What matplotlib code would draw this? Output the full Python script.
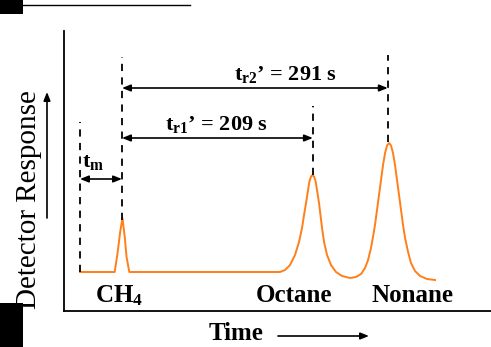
import matplotlib
matplotlib.use('Agg')
import matplotlib.pyplot as plt
from matplotlib.patches import Rectangle, FancyArrowPatch
from matplotlib.lines import Line2D

plt.rcParams['font.family'] = ['Liberation Serif', 'DejaVu Serif']
plt.rcParams['mathtext.fontset'] = 'custom'
plt.rcParams['mathtext.rm'] = 'Liberation Serif:bold'
plt.rcParams['mathtext.it'] = 'Liberation Serif:bold'
plt.rcParams['mathtext.bf'] = 'Liberation Serif:bold'

# chromatogram trace (time in s, response in arbitrary units)
trace_t = [0, 38, 41, 44, 46.5, 49, 51, 54,
           219, 224.5, 230, 235.4, 239.8, 243.1, 245.3, 247.5, 249.7, 251.3, 253,
           254.6, 256.2, 257.9, 259.5, 261.7, 263.3, 265, 267.2, 270.5, 274.8, 280.3,
           286.9, 295.7, 302.2, 307.7, 312.1, 315.4, 318.6, 320.8, 323, 325.2, 327.4,
           329.6, 331.8, 334, 336.2, 338.4, 340.5, 342.7, 344.9, 347.1, 349.3, 351.5,
           353.7, 355.9, 359.2, 362.4, 366.8, 372.3, 380, 388.7]
trace_r = [0, 0, 18, 40, 54, 35, 15, 0,
           0, 2, 7, 17, 30, 44, 57, 69, 82, 91, 95.5,
           97, 95.5, 91, 82, 69, 57, 44, 30, 17, 7, 0,
           -4, -6, -5, -2, 4, 12, 24, 35, 47, 62, 77,
           92, 107, 119, 126.5, 129, 126.5, 119, 107, 92, 77, 62,
           47, 34, 20, 9, 1, -4, -7, -8]

t_inject = 0
t_ch4 = 46
tr1_adj = 209
tr2_adj = 291
peak_names = ['CH$_4$', 'Octane', 'Nonane']
peak_times = [t_ch4, t_ch4 + tr1_adj, t_ch4 + tr2_adj]

W, H = 491, 347


def px(x, y):
    return (x / W, 1 - y / H)


fig = plt.figure(figsize=(W / 100, H / 100), dpi=100)
ax = fig.add_axes([64 / W, 36 / H, (W - 64) / W, 280 / H])
ax.set_xlim(-17.5, 450)
ax.set_ylim(-39, 241)
for s in ['top', 'right']:
    ax.spines[s].set_visible(False)
for s in ['left', 'bottom']:
    ax.spines[s].set_linewidth(1.3)
ax.set_xticks([])
ax.set_yticks([])

ax.plot(trace_t, trace_r, color='#ff7f1a', lw=1.4, solid_joinstyle='round')

dash = dict(color='black', lw=1.3, linestyle=(0, (4, 3.5)))
ax.plot([t_inject, t_inject], [0, 150], **dash)
ax.plot([peak_times[0]] * 2, [52, 215], **dash)
ax.plot([peak_times[1]] * 2, [97, 166], **dash)
ax.plot([peak_times[2]] * 2, [130, 217], **dash)

arrow = dict(arrowstyle='<|-|>,head_length=0.5,head_width=0.2', color='black',
             lw=1.2, mutation_scale=10, shrinkA=0, shrinkB=0)
ax.annotate('', xy=(t_inject, 93), xytext=(t_ch4, 93), arrowprops=arrow)
ax.annotate('', xy=(t_ch4, 134), xytext=(peak_times[1], 134), arrowprops=arrow)
ax.annotate('', xy=(t_ch4, 184), xytext=(peak_times[2], 184), arrowprops=arrow)

ax.text(14, 110, 't$_{\\rm m}$', fontsize=16, fontweight='bold', ha='center', va='center')
ax.text(150, 147, f't$_{{\\rm r1}}$\u2019 = {tr1_adj} s', fontsize=16, fontweight='bold',
        ha='center', va='center')
ax.text(225, 197, f't$_{{\\rm r2}}$\u2019 = {tr2_adj} s', fontsize=16, fontweight='bold',
        ha='center', va='center')

label_x = [43, 234, 364]
for name, lx in zip(peak_names, label_x):
    ax.text(lx, -24, name, fontsize=18, fontweight='bold', ha='center', va='center')

fig.text(*px(236, 333), 'Time', fontsize=18, fontweight='bold', ha='center', va='center')
fig.add_artist(FancyArrowPatch(px(278, 336), px(369, 336), transform=fig.transFigure,
                               arrowstyle='-|>,head_length=0.5,head_width=0.2',
                               mutation_scale=10, color='black', lw=1.2,
                               shrinkA=0, shrinkB=0))
fig.text(*px(29, 200), 'Detector Response', fontsize=21, rotation=90,
         ha='center', va='center')
fig.add_artist(FancyArrowPatch(px(47, 218), px(47, 92), transform=fig.transFigure,
                               arrowstyle='-|>,head_length=0.5,head_width=0.2',
                               mutation_scale=10, color='black', lw=1.2,
                               shrinkA=0, shrinkB=0))

# page fragments at the edges
fig.add_artist(Rectangle(px(0, 14), 23 / W, 14 / H, transform=fig.transFigure,
                         color='black', lw=0))
fig.add_artist(Rectangle(px(0, 347), 23 / W, 44 / H, transform=fig.transFigure,
                         color='black', lw=0))
fig.add_artist(Line2D([0, 190 / W], [1 - 5 / H] * 2, transform=fig.transFigure,
                      color='black', lw=1.0))

fig.savefig('out.png', dpi=100)
